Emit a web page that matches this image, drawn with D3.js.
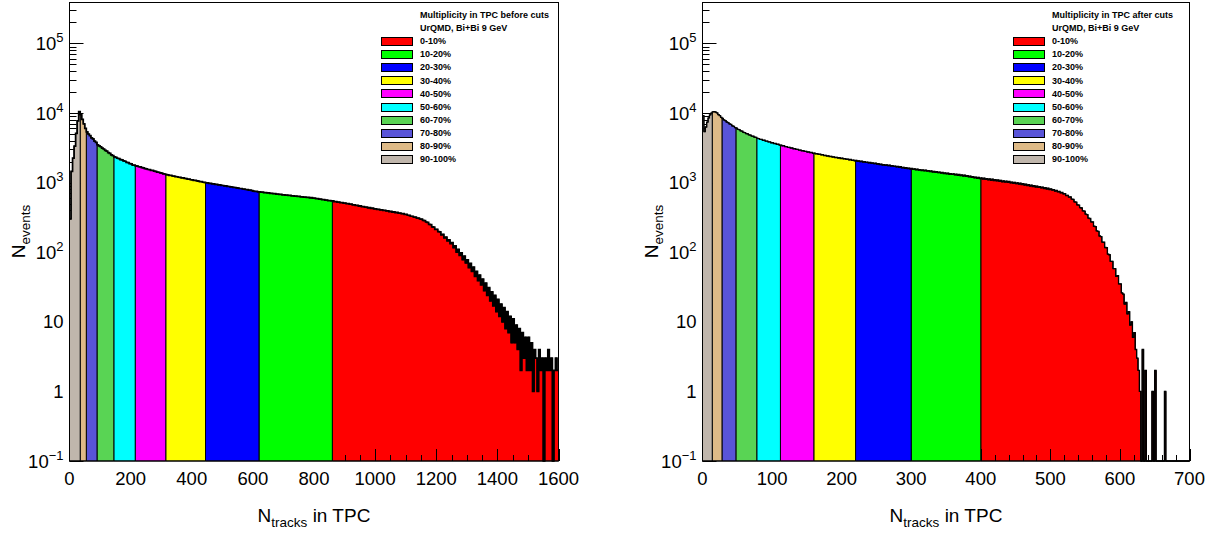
<!DOCTYPE html>
<html>
<head>
<meta charset="utf-8">
<script src="https://cdn.jsdelivr.net/npm/d3@7"></script>
<style>
  body { margin: 0; background: #fff; }
  svg { display: block; font-family: "Liberation Sans", Arial, Helvetica, sans-serif; }
</style>
</head>
<body>
<div id="chart"></div>
<script>
// centrality classes, 0-10% first
const classLabels = ["0-10%", "10-20%", "20-30%", "30-40%", "40-50%",
                     "50-60%", "60-70%", "70-80%", "80-90%", "90-100%"];
const classColors = ["#ff0000", "#00ff00", "#0000ff", "#ffff00", "#ff00ff",
                     "#00ffff", "#59d454", "#5954d8", "#deba87", "#c0b6ac"];

// before cuts: bins of 5 tracks, 0..1600
const binWidthBefore = 5;
const countsBefore = [
  300, 1450, 2250, 3350, 5100, 7700, 10500, 9500, 8100, 7000,
  6000, 5350, 5000, 4750, 4400, 4250, 3950, 3800, 3500, 3380,
  3280, 3130, 3040, 2900, 2830, 2700, 2640, 2500, 2450, 2340,
  2310, 2240, 2210, 2140, 2120, 2050, 2030, 1960, 1940, 1880,
  1860, 1790, 1780, 1740, 1730, 1690, 1680, 1640, 1630, 1590,
  1580, 1545, 1540, 1500, 1495, 1460, 1450, 1420, 1410, 1380,
  1370, 1340, 1330, 1300, 1295, 1270, 1268, 1245, 1242, 1220,
  1215, 1195, 1192, 1170, 1168, 1148, 1145, 1122, 1120, 1100,
  1098, 1080, 1076, 1058, 1054, 1035, 1032, 1012, 1010, 995,
  992, 978, 976, 962, 960, 945, 943, 928, 927, 912,
  910, 897, 896, 882, 880, 867, 866, 852, 851, 838,
  836, 824, 823, 810, 808, 796, 795, 782, 781, 769,
  757, 748, 747, 738, 738, 728, 729, 719, 720, 710,
  711, 702, 703, 693, 695, 685, 686, 677, 678, 668,
  670, 661, 663, 654, 655, 647, 648, 640, 641, 633,
  634, 626, 627, 619, 620, 612, 614, 605, 607, 599,
  599, 590, 590, 580, 581, 571, 572, 562, 563, 553,
  554, 546, 545, 535, 536, 526, 527, 517, 518, 509,
  510, 500, 501, 490, 491, 480, 481, 470, 472, 460,
  462, 452, 453, 443, 444, 434, 436, 427, 429, 419,
  421, 412, 414, 405, 407, 398, 400, 391, 393, 384,
  386, 378, 379, 371, 373, 364, 366, 357, 358, 349,
  350, 340, 339, 329, 329, 319, 320, 309, 310, 300,
  299, 287, 285, 272, 268, 252, 249, 232, 229, 213,
  214, 198, 196, 178, 181, 161, 165, 146, 150, 133,
  138, 116, 123, 100, 110, 90, 98, 78, 88, 70,
  78, 60, 69, 53, 61, 45, 53, 39, 47, 34,
  41, 28, 36, 24, 31, 20, 27, 17, 24, 14,
  21, 12, 18, 10, 16, 8, 14, 7, 12, 5,
  11, 5, 9, 4, 8, 2, 7, 3, 6, 2,
  6, 2, 5, 1, 4, 3, 1, 4, 2, 3,
  0, 3, 2, 4, 2, 3, 0, 2, 3, 2
];
// class limits in N_tracks, from the top class down
const edgesBefore = [1600, 860, 620, 445, 315, 215, 145, 90, 55, 35, 0];

// after cuts: bins of 2 tracks, 0..700
const binWidthAfter = 2;
const countsAfter = [
  9200, 5400, 6300, 7400, 8500, 9400, 10000, 10400, 10500, 10300,
  10050, 9500, 9180, 8650, 8380, 7950, 7800, 7430, 7300, 6980,
  6850, 6560, 6450, 6170, 6080, 5840, 5780, 5550, 5490, 5280,
  5240, 5060, 5030, 4850, 4820, 4660, 4640, 4490, 4480, 4320,
  4290, 4170, 4180, 4060, 4070, 3950, 3960, 3840, 3850, 3730,
  3740, 3640, 3650, 3550, 3560, 3460, 3470, 3380, 3390, 3290,
  3300, 3210, 3220, 3140, 3150, 3070, 3080, 3000, 3010, 2930,
  2940, 2870, 2880, 2810, 2820, 2750, 2760, 2700, 2710, 2640,
  2660, 2590, 2610, 2540, 2560, 2500, 2520, 2450, 2470, 2410,
  2430, 2370, 2390, 2330, 2350, 2290, 2310, 2260, 2280, 2220,
  2250, 2190, 2210, 2160, 2180, 2120, 2150, 2090, 2110, 2060,
  2090, 2030, 2060, 2000, 2030, 1970, 2000, 1950, 1970, 1920,
  1950, 1900, 1920, 1870, 1900, 1840, 1870, 1820, 1840, 1790,
  1820, 1770, 1800, 1750, 1780, 1730, 1760, 1710, 1730, 1680,
  1710, 1660, 1690, 1630, 1660, 1610, 1640, 1590, 1620, 1570,
  1600, 1550, 1580, 1530, 1560, 1510, 1540, 1490, 1520, 1480,
  1510, 1460, 1490, 1440, 1470, 1420, 1450, 1400, 1440, 1390,
  1420, 1370, 1400, 1350, 1380, 1340, 1370, 1320, 1350, 1310,
  1340, 1290, 1320, 1270, 1310, 1260, 1290, 1240, 1280, 1230,
  1260, 1210, 1240, 1190, 1220, 1170, 1200, 1150, 1190, 1140,
  1170, 1120, 1160, 1110, 1140, 1100, 1130, 1080, 1120, 1070,
  1100, 1060, 1090, 1040, 1080, 1030, 1060, 1020, 1050, 1010,
  1040, 990, 1020, 980, 1010, 965, 995, 950, 980, 940,
  965, 922, 950, 908, 935, 893, 920, 880, 905, 866,
  892, 855, 876, 840, 860, 824, 845, 810, 830, 795,
  812, 778, 792, 756, 772, 738, 748, 712, 722, 688,
  695, 652, 658, 618, 624, 578, 576, 528, 525, 480,
  476, 436, 432, 393, 390, 353, 347, 310, 305, 273,
  272, 236, 233, 202, 199, 171, 168, 140, 139, 117,
  116, 94, 92, 74, 74, 58, 58, 45, 46, 35,
  35, 26, 25, 18, 19, 13, 14, 9, 10, 6,
  7, 4, 3, 2, 1, 0, 4, 0, 2, 0,
  0, 0, 0, 1, 0, 2, 0, 0, 0, 0,
  0, 0, 1, 0, 0, 0, 0, 0, 0, 0,
  0, 0, 0, 0, 0, 0, 0, 0, 0, 0
];
const edgesAfter = [700, 400, 300, 220, 160, 112, 78, 48, 28, 14, 0];

const xTicksBefore = [0, 200, 400, 600, 800, 1000, 1200, 1400, 1600];
const xTicksAfter = [0, 100, 200, 300, 400, 500, 600, 700];
const yTickValues = [0.1, 1, 10, 100, 1000, 10000, 100000];
const yTickText = [["10", "\u22121"], ["1", ""], ["10", ""], ["10", "2"],
                   ["10", "3"], ["10", "4"], ["10", "5"]];
const legendHeader = ["UrQMD, Bi+Bi 9 GeV"];

const width = 1212, height = 535;
const frameTop = 2, frameBottom = 461;
const yMax = 3.94e5;

const svg = d3.select("#chart").append("svg")
  .attr("width", width)
  .attr("height", height);

const panels = [
  { counts: countsBefore, bw: binWidthBefore, edges: edgesBefore, xMax: 1600,
    xTicks: xTicksBefore, minorStep: 50, x0: 69.5, x1: 558.5, outline: 1.7,
    title: "Multiplicity in TPC before cuts", legendX: 381.5 },
  { counts: countsAfter, bw: binWidthAfter, edges: edgesAfter, xMax: 700,
    xTicks: xTicksAfter, minorStep: 20, x0: 702.5, x1: 1189.5, outline: 1.3,
    title: "Multiplicity in TPC after cuts", legendX: 1013.5 }
];

const y = d3.scaleLog().domain([0.1, yMax]).range([frameBottom, frameTop]);

function drawPanel(p) {
  const g = svg.append("g");
  const x = d3.scaleLinear().domain([0, p.xMax]).range([p.x0, p.x1]);

  function yOf(v) {
    if (!(v > 0)) return frameBottom;
    return Math.min(y(v), frameBottom);
  }

  function stepPoints(lo, hi) {
    const pts = [];
    const i0 = Math.round(lo / p.bw), i1 = Math.round(hi / p.bw);
    for (let i = i0; i < i1; i++) {
      const yy = yOf(p.counts[i]);
      pts.push([x(i * p.bw), yy], [x((i + 1) * p.bw), yy]);
    }
    return pts;
  }

  function drawClass(k) {
    const lo = p.edges[k + 1], hi = p.edges[k];
    const pts = [[x(lo), frameBottom], ...stepPoints(lo, hi), [x(hi), frameBottom]];
    g.append("path")
      .attr("d", d3.line()(pts) + "Z")
      .attr("fill", classColors[k])
      .attr("stroke", "#000")
      .attr("stroke-width", 1)
      .attr("stroke-linejoin", "miter");
  }

  // the 0-10% histogram goes first, axis ticks are painted over it
  drawClass(0);

  const ticks = g.append("g").attr("stroke", "#000").attr("stroke-width", 1);
  d3.range(0, p.xMax + 0.001, p.minorStep).forEach(v => {
    const major = p.xTicks.includes(v);
    const xx = Math.round(x(v)) + 0.5;
    ticks.append("line")
      .attr("x1", xx).attr("x2", xx)
      .attr("y1", frameBottom).attr("y2", frameBottom - (major ? 12 : 6));
  });
  for (let k = -1; k <= 5; k++) {
    for (let m = 1; m <= 9; m++) {
      const v = m * Math.pow(10, k);
      if (v > yMax) continue;
      const yy = Math.round(y(v)) + 0.5;
      ticks.append("line")
        .attr("x1", p.x0).attr("x2", p.x0 + (m === 1 ? 14 : 7))
        .attr("y1", yy).attr("y2", yy);
    }
  }

  for (let k = 1; k < classLabels.length; k++) drawClass(k);

  // bin-to-bin fluctuations make the top contour look heavier
  g.append("path")
    .attr("d", d3.line()(stepPoints(0, p.xMax)))
    .attr("fill", "none")
    .attr("stroke", "#000")
    .attr("stroke-width", p.outline)
    .attr("stroke-linejoin", "miter");

  // frame
  g.append("rect")
    .attr("x", p.x0).attr("y", frameTop + 0.5)
    .attr("width", p.x1 - p.x0).attr("height", frameBottom - frameTop - 0.5)
    .attr("fill", "none").attr("stroke", "#000").attr("stroke-width", 1);

  // x labels
  g.append("g").selectAll("text").data(p.xTicks).join("text")
    .attr("x", d => x(d))
    .attr("y", frameBottom + 24)
    .attr("text-anchor", "middle")
    .attr("font-size", 18.5)
    .text(d => d);

  // y labels
  const yl = g.append("g").selectAll("text").data(yTickValues).join("text")
    .attr("x", p.x0 - 6)
    .attr("y", d => y(d) + 6.5)
    .attr("text-anchor", "end")
    .attr("font-size", 18.5);
  yl.each(function(d, i) {
    const t = d3.select(this);
    t.append("tspan").text(yTickText[i][0]);
    if (yTickText[i][1]) {
      t.append("tspan").attr("font-size", 13).attr("dy", -8).text(yTickText[i][1]);
    }
  });

  // axis titles
  const xt = g.append("text")
    .attr("x", (p.x0 + p.x1) / 2)
    .attr("y", 522)
    .attr("text-anchor", "middle")
    .attr("font-size", 19);
  xt.append("tspan").text("N");
  xt.append("tspan").attr("font-size", 13.5).attr("dy", 5).text("tracks");
  xt.append("tspan").attr("dy", -5).text(" in TPC");

  const yt = g.append("text")
    .attr("transform", `translate(${p.x0 - 45},${(frameTop + frameBottom) / 2}) rotate(-90)`)
    .attr("text-anchor", "middle")
    .attr("font-size", 19);
  yt.append("tspan").text("N");
  yt.append("tspan").attr("font-size", 13.5).attr("dy", 5).text("events");

  // legend
  const rowY = i => 14.5 + i * 13.15;
  const lg = g.append("g").attr("font-size", 9).attr("font-weight", "bold");
  const tx = p.legendX + 38.5;
  lg.append("text").attr("x", tx).attr("y", rowY(0) + 3.3).text(p.title);
  lg.append("text").attr("x", tx).attr("y", rowY(1) + 3.3).text(legendHeader[0]);
  classLabels.forEach((lab, k) => {
    const yy = rowY(k + 2);
    lg.append("rect")
      .attr("x", p.legendX).attr("y", Math.round(yy - 4) + 0.5)
      .attr("width", 31).attr("height", 8)
      .attr("fill", classColors[k]).attr("stroke", "#000").attr("stroke-width", 1);
    lg.append("text").attr("x", tx).attr("y", yy + 3.3).text(lab);
  });
}

panels.forEach(drawPanel);
</script>
</body>
</html>
